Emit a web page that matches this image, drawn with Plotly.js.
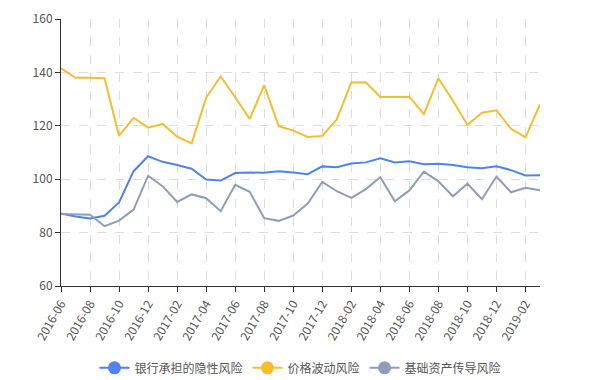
<!DOCTYPE html>
<html>
<head>
<meta charset="utf-8">
<script src="https://cdn.plot.ly/plotly-3.0.1.min.js"></script>
<style>html,body{margin:0;padding:0;background:#fff;}#chart{width:600px;height:380px;}</style>
</head>
<body>
<div id="chart"></div>
<script>
const months = ["2016-06","2016-07","2016-08","2016-09","2016-10","2016-11","2016-12","2017-01","2017-02","2017-03","2017-04","2017-05","2017-06","2017-07","2017-08","2017-09","2017-10","2017-11","2017-12","2018-01","2018-02","2018-03","2018-04","2018-05","2018-06","2018-07","2018-08","2018-09","2018-10","2018-11","2018-12","2019-01","2019-02","2019-03"];
const bankRisk = [87.2,86.0,85.3,86.3,91.3,103.0,108.6,106.5,105.3,103.9,99.9,99.5,102.3,102.5,102.4,103.0,102.5,101.9,104.8,104.5,105.9,106.3,107.8,106.3,106.7,105.6,105.8,105.3,104.5,104.1,104.8,103.4,101.4,101.5];
const priceRisk = [141.5,138.0,138.0,137.8,116.2,123.0,119.3,120.7,115.9,113.4,130.5,138.5,130.7,122.6,135.2,119.9,118.2,115.8,116.2,122.4,136.2,136.3,130.8,130.8,130.9,124.4,137.8,129.4,120.3,124.9,125.8,118.9,115.7,128.0];
const assetRisk = [87.0,86.8,86.7,82.4,84.5,88.6,101.3,97.4,91.5,94.3,92.9,88.0,97.9,95.3,85.4,84.4,86.4,90.9,99.0,95.5,93.0,96.3,100.7,91.7,95.8,102.8,99.2,93.6,98.3,92.5,101.0,95.1,96.8,95.9];
const names = ["银行承担的隐性风险","价格波动风险","基础资产传导风险"];
const colors = ["#4f83ee","#f6bd2f","#8f9dbd"];
const series = [bankRisk, priceRisk, assetRisk];

const traces = [];
series.forEach((s, i) => {
  traces.push({x: months, y: s, type: "scatter", mode: "lines", name: names[i],
    line: {color: colors[i], width: 2}, showlegend: false, hoverinfo: "x+y"});
});
series.forEach((s, i) => {
  traces.push({x: [null], y: [null], type: "scatter", mode: "lines+markers", name: names[i],
    line: {color: colors[i], width: 2}, marker: {color: colors[i], size: 13}, showlegend: true});
});

const layout = {
  width: 600, height: 380,
  margin: {l: 61, r: 60, t: 19, b: 94},
  paper_bgcolor: "#fff", plot_bgcolor: "#fff",
  font: {family: "'Noto Sans CJK SC', 'Noto Sans', sans-serif", size: 12, color: "#555"},
  showlegend: true,
  legend: {orientation: "h", x: 0.5, xanchor: "center", xref: "paper",
    y: 0.032, yanchor: "middle", yref: "container",
    font: {size: 12, color: "#555"}, itemwidth: 30, tracegroupgap: 0},
  xaxis: {type: "category", range: [0, 33], tickmode: "linear", tick0: 0, dtick: 2,
    tickangle: -60, showline: true, linecolor: "#333", linewidth: 1, automargin: false,
    ticks: "outside", ticklen: 5, tickcolor: "#333",
    showgrid: true, gridcolor: "#ddd", griddash: "dash", gridwidth: 1,
    tickfont: {size: 12, color: "#555"}, zeroline: false},
  yaxis: {range: [60, 160], tickmode: "linear", tick0: 60, dtick: 20, automargin: false,
    showline: true, linecolor: "#333", linewidth: 1,
    ticks: "outside", ticklen: 5, tickcolor: "#333",
    showgrid: true, gridcolor: "#ddd", griddash: "dash", gridwidth: 1,
    tickfont: {size: 12, color: "#555"}, zeroline: false}
};

Plotly.newPlot("chart", traces, layout, {displayModeBar: false, staticPlot: true});
</script>
</body>
</html>
